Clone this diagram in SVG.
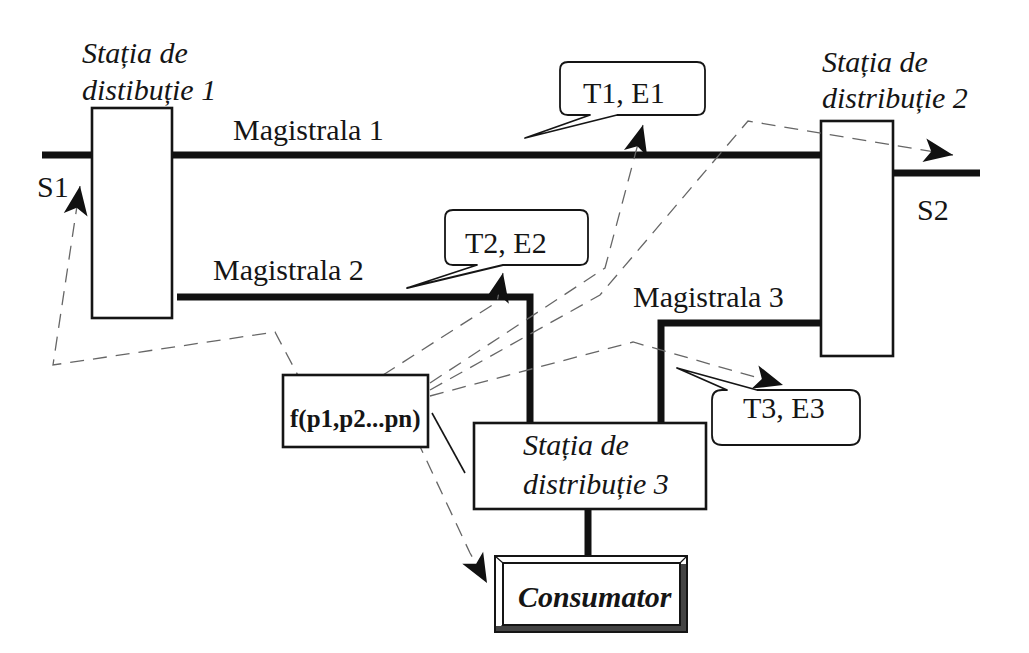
<svg xmlns="http://www.w3.org/2000/svg" width="1029" height="653" viewBox="0 0 1029 653">
<style>
text{font-family:"Liberation Serif","Times New Roman",serif;fill:#151515}
.lbl{font-size:30px}
.it{font-size:30px;font-style:italic}
.box{fill:#fff;stroke:#151515;stroke-width:2.6}
.bus{fill:none;stroke:#111;stroke-width:7;stroke-linejoin:miter}
.dash{fill:none;stroke:#666;stroke-width:1.3;stroke-dasharray:14 9}
.call{fill:#fff;stroke:#151515;stroke-width:1.8;stroke-linejoin:round}
</style>
<defs>
<marker id="ah" markerUnits="userSpaceOnUse" viewBox="-32 -15 34 30" markerWidth="34" markerHeight="30" refX="0" refY="0" orient="auto">
<path d="M0,0 L-29,-12 L-22,0 L-29,12 Z" fill="#111"/>
</marker>
</defs>
<rect width="1029" height="653" fill="#fff"/>

<g id="station1">
<rect class="box" x="92" y="108" width="80" height="210"/>
<text class="it" x="82" y="63">Stația de</text>
<text class="it" x="82" y="100">distibuție 1</text>
</g>
<g id="station2">
<rect class="box" x="821" y="121" width="72" height="235"/>
<text class="it" x="822" y="72">Stația de</text>
<text class="it" x="822" y="108">distribuție 2</text>
</g>

<g id="connectors">
<path class="bus" d="M42,155 H92 M172,155 H821"/>
<path class="bus" d="M177,297 H530 V423"/>
<path class="bus" d="M661,423 V323 H821"/>
<path class="bus" d="M893,173 H980"/>
<path class="bus" d="M588,509 V556"/>
<path d="M432,413 L465,473" fill="none" stroke="#151515" stroke-width="1.6"/>
<path class="dash" d="M303,385 L275,332 L53,365 L80,186" marker-end="url(#ah)"/>
<path class="dash" d="M383,375 L497,302 L503,273" marker-end="url(#ah)"/>
<path class="dash" d="M430,383 L605,268 L643,125" marker-end="url(#ah)"/>
<path class="dash" d="M430,390 L600,295 L748,121 L953,155" marker-end="url(#ah)"/>
<path class="dash" d="M430,396 L633,342 L783,385" marker-end="url(#ah)"/>
<path class="dash" d="M417,440 L470,553 L487,583" marker-end="url(#ah)"/>
</g>

<g id="station3">
<rect class="box" x="474" y="423" width="232" height="86"/>
<text class="it" x="523" y="455">Stația de</text>
<text class="it" x="523" y="494">distribuție 3</text>
</g>
<g id="labels">
<text class="lbl" x="233" y="140">Magistrala 1</text>
<text class="lbl" x="213" y="280">Magistrala 2</text>
<text class="lbl" x="633" y="307">Magistrala 3</text>
<text class="lbl" x="37" y="197">S1</text>
<text class="lbl" x="917" y="220">S2</text>
</g>
<g id="t1e1">
<path class="call" d="M568,62 H697 Q705,62 705,70 V107 Q705,115 697,115 H617 L525,138 L590,115 H568 Q560,115 560,107 V70 Q560,62 568,62 Z"/>
<text class="lbl" x="583" y="103">T1, E1</text>
</g>
<g id="t2e2">
<path class="call" d="M453,210 H580 Q588,210 588,218 V257 Q588,265 580,265 H503 L407,288 L477,265 H453 Q445,265 445,257 V218 Q445,210 453,210 Z"/>
<text class="lbl" x="465" y="253">T2, E2</text>
</g>
<g id="t3e3">
<path class="call" d="M722,390 H727 L677,368 L757,390 H850 Q860,390 860,400 V435 Q860,445 850,445 H722 Q712,445 712,435 V400 Q712,390 722,390 Z"/>
<text class="lbl" x="743" y="418">T3, E3</text>
</g>
<g id="func">
<rect class="box" x="283" y="375" width="145" height="72" stroke-width="2"/>
<text x="290" y="427" font-size="25" font-weight="bold">f(p1,p2...pn)</text>
</g>
<g id="consumator">
<rect x="495" y="556" width="192" height="76" fill="#fff" stroke="#151515" stroke-width="2"/>
<rect x="503" y="563" width="177" height="62" fill="none" stroke="#151515" stroke-width="2"/>
<path d="M680,563 L687,556 M680,625 L687,632 M503,625 L495,632 M503,563 L495,556" stroke="#151515" stroke-width="1.2"/>
<path d="M681,564 H686 V631 H496 V626 H681 Z" fill="#444"/>
<text x="518" y="607" font-size="30" font-weight="bold" font-style="italic">Consumator</text>
</g>
</svg>
